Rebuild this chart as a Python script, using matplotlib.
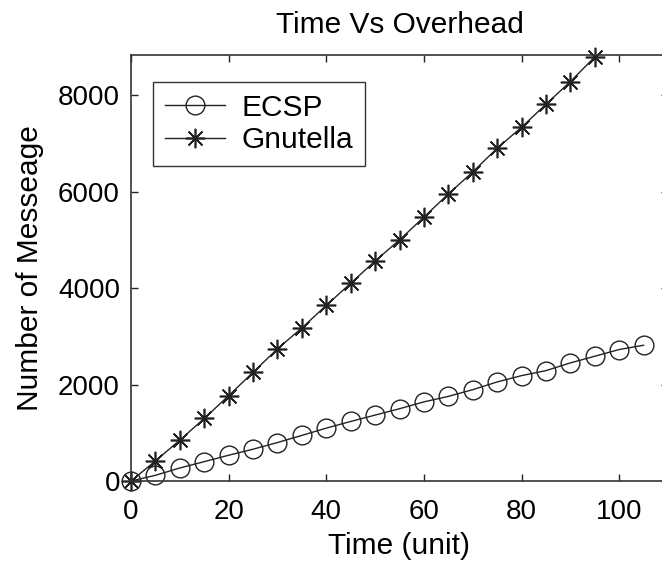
import matplotlib
matplotlib.use("Agg")
import matplotlib.pyplot as plt

plt.rcParams['font.family'] = ['Liberation Sans', 'DejaVu Sans']

# Data
time_ecsp = [0, 5, 10, 15, 20, 25, 30, 35, 40, 45, 50, 55, 60, 65, 70, 75, 80, 85, 90, 95, 100, 105]
ecsp = [0, 118, 270, 401, 534, 659, 797, 945, 1096, 1234, 1366, 1498, 1640, 1754, 1893, 2053, 2184, 2288, 2448, 2586, 2725, 2814]

time_gnu = [0, 5, 10, 15, 20, 25, 30, 35, 40, 45, 50, 55, 60, 65, 70, 75, 80, 85, 90, 95]
gnutella = [0, 416, 846, 1296, 1768, 2253, 2739, 3172, 3640, 4098, 4560, 4996, 5470, 5949, 6405, 6897, 7332, 7809, 8278, 8790]

xticks = [0, 20, 40, 60, 80, 100]
yticks = [0, 2000, 4000, 6000, 8000]

title = "Time Vs Overhead"
xlabel = "Time (unit)"
ylabel = "Number of Messeage"
labels = ["ECSP", "Gnutella"]

W, H = 662, 565
fig = plt.figure(figsize=(W / 100, H / 100), dpi=100)
ax = fig.add_axes([131 / W, 84 / H, 537 / W, 426 / H])

ink = '#222222'
ax.plot(time_ecsp, ecsp, color=ink, lw=1.0, marker='o', ms=13.5,
        mfc='none', mec=ink, mew=1.0, label=labels[0], clip_on=False)
ax.plot(time_gnu, gnutella, color=ink, lw=1.0, marker=(8, 2, 0), ms=14,
        mec=ink, mew=1.2, label=labels[1], clip_on=False)

ax.set_xlim(0, 110)
ax.set_ylim(0, 8830)
ax.set_xticks(xticks)
ax.set_yticks(yticks)
fs_tick = 20
fs = 21.5
ax.tick_params(direction='in', length=5, width=1, colors=ink, labelcolor='black',
               labelsize=fs_tick, top=True, right=True)
ax.tick_params(axis='x', pad=13)
ax.tick_params(axis='y', pad=8)
for s in ax.spines.values():
    s.set_color('#333333')
    s.set_linewidth(1.2)

ax.set_title(title, fontsize=fs, pad=16)
ax.set_xlabel(xlabel, fontsize=fs, labelpad=5)
ax.set_ylabel(ylabel, fontsize=fs, labelpad=10)

leg = ax.legend(loc='upper left', bbox_to_anchor=(22 / 537, (481 - 82) / 426),
                borderaxespad=0, fontsize=fs, frameon=True, fancybox=False,
                edgecolor='black', handlelength=2.0, handletextpad=0.55,
                labelspacing=0.15, borderpad=0.4)
leg.get_frame().set_linewidth(1.0)

fig.savefig("out.png", dpi=100)
